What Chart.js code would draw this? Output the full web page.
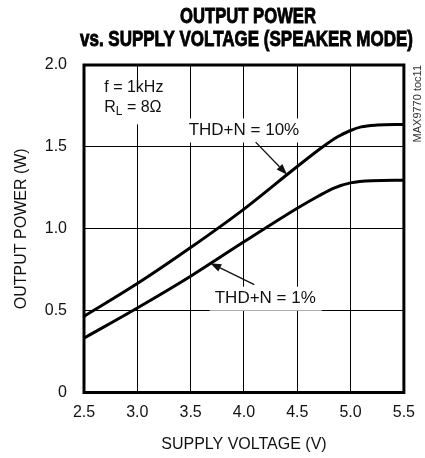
<!DOCTYPE html>
<html>
<head>
<meta charset="utf-8">
<script src="https://cdn.jsdelivr.net/npm/chart.js@4.4.0/dist/chart.umd.min.js"></script>
<style>
  html, body { margin: 0; padding: 0; background: #fff; }
  #chart { display: block; }
</style>
</head>
<body>
<canvas id="chart" width="425" height="458"></canvas>
<script>
// THD+N = 10% curve
const voltage10 = [2.5, 3.0, 3.5, 4.0, 4.5, 4.75, 4.875, 5.0, 5.1, 5.25, 5.5];
const power10 = [0.465, 0.665, 0.885, 1.12, 1.38, 1.505, 1.56, 1.60, 1.622, 1.633, 1.637];

// THD+N = 1% curve
const voltage1 = [2.5, 3.0, 3.5, 4.0, 4.5, 4.7, 4.85, 5.0, 5.2, 5.5];
const power1 = [0.332, 0.516, 0.71, 0.92, 1.125, 1.2, 1.25, 1.28, 1.293, 1.296];

const xTicks = [2.5, 3.0, 3.5, 4.0, 4.5, 5.0, 5.5];
const yTicks = [0, 0.5, 1.0, 1.5, 2.0];

const FONT = "'Liberation Sans Narrow', 'Liberation Sans', Arial, sans-serif";
const INK = '#111';

function toPoints(xs, ys) {
  return xs.map((v, i) => ({ x: v, y: ys[i] }));
}

function arrow(ctx, x1, y1, x2, y2) {
  const ang = Math.atan2(y2 - y1, x2 - x1);
  const len = 11, half = 4;
  const bx = x2 - len * Math.cos(ang), by = y2 - len * Math.sin(ang);
  ctx.beginPath();
  ctx.moveTo(x1, y1);
  ctx.lineTo(bx, by);
  ctx.lineWidth = 1.3;
  ctx.stroke();
  ctx.beginPath();
  ctx.moveTo(x2, y2);
  ctx.lineTo(bx + half * Math.sin(ang), by - half * Math.cos(ang));
  ctx.lineTo(bx - half * Math.sin(ang), by + half * Math.cos(ang));
  ctx.closePath();
  ctx.fill();
}

// label with white box, centred on a data point
function boxedLabel(ctx, text, cx, cy) {
  ctx.font = '17px ' + FONT;
  const w = ctx.measureText(text).width;
  ctx.fillStyle = '#fff';
  ctx.fillRect(cx - w / 2 - 5, cy - 12, w + 11, 24);
  ctx.fillStyle = INK;
  ctx.textAlign = 'center';
  ctx.textBaseline = 'middle';
  ctx.fillText(text, cx, cy);
}

const notes = {
  id: 'notes',
  afterDatasetsDraw(chart) {
    const { ctx, chartArea: a, scales: { x, y } } = chart;
    ctx.save();
    ctx.strokeStyle = INK;
    ctx.fillStyle = INK;

    // conditions box
    const fx = x.getPixelForValue(2.69);
    ctx.fillStyle = '#fff';
    ctx.fillRect(fx - 5, y.getPixelForValue(1.9), 63, 43);
    ctx.fillStyle = INK;
    ctx.font = '16px ' + FONT;
    ctx.textAlign = 'left';
    ctx.textBaseline = 'alphabetic';
    const b1 = y.getPixelForValue(1.833), b2 = y.getPixelForValue(1.71);
    ctx.fillText('f = 1kHz', fx, b1);
    ctx.fillText('R', fx, b2);
    let px = fx + ctx.measureText('R').width;
    ctx.font = '12px ' + FONT;
    ctx.fillText('L', px, b2 + 3);
    px += ctx.measureText('L').width;
    ctx.font = '16px ' + FONT;
    ctx.fillText(' = 8Ω', px, b2);

    // curve labels
    boxedLabel(ctx, 'THD+N = 10%', x.getPixelForValue(4.0), y.getPixelForValue(1.60));
    boxedLabel(ctx, 'THD+N = 1%', x.getPixelForValue(4.2), y.getPixelForValue(0.573));

    ctx.strokeStyle = INK;
    ctx.fillStyle = INK;
    arrow(ctx, x.getPixelForValue(4.11), y.getPixelForValue(1.529),
               x.getPixelForValue(4.405), y.getPixelForValue(1.33));
    arrow(ctx, x.getPixelForValue(4.097), y.getPixelForValue(0.659),
               x.getPixelForValue(3.684), y.getPixelForValue(0.79));

    // heavy frame
    ctx.lineWidth = 3;
    ctx.strokeStyle = '#000';
    ctx.strokeRect(a.left, a.top, a.right - a.left, a.bottom - a.top);

    // title, heavy condensed
    ctx.fillStyle = '#000';
    ctx.strokeStyle = '#000';
    ctx.lineWidth = 0.9;
    ctx.textAlign = 'center';
    ctx.textBaseline = 'alphabetic';
    ctx.font = 'bold 22px ' + FONT;
    ctx.fillText('OUTPUT POWER', 248, 23, 136);
    ctx.strokeText('OUTPUT POWER', 248, 23, 136);
    ctx.fillText('vs. SUPPLY VOLTAGE (SPEAKER MODE)', 246.5, 46, 333);
    ctx.strokeText('vs. SUPPLY VOLTAGE (SPEAKER MODE)', 246.5, 46, 333);

    // side code
    ctx.translate(418, a.top);
    ctx.rotate(-Math.PI / 2);
    ctx.font = '11px ' + FONT;
    ctx.textAlign = 'right';
    ctx.textBaseline = 'middle';
    ctx.fillStyle = '#333';
    ctx.fillText('MAX9770 toc11', 0, 0, 80);
    ctx.restore();
  }
};

new Chart(document.getElementById('chart'), {
  type: 'line',
  data: {
    datasets: [
      {
        label: 'THD+N = 10%',
        data: toPoints(voltage10, power10),
        borderColor: '#000',
        borderWidth: 3,
        pointRadius: 0,
        cubicInterpolationMode: 'monotone',
        fill: false
      },
      {
        label: 'THD+N = 1%',
        data: toPoints(voltage1, power1),
        borderColor: '#000',
        borderWidth: 3,
        pointRadius: 0,
        cubicInterpolationMode: 'monotone',
        fill: false
      }
    ]
  },
  options: {
    responsive: false,
    animation: false,
    layout: { padding: { top: 65, right: 13.5, left: 0, bottom: 0 } },
    plugins: {
      legend: { display: false },
      tooltip: { enabled: false }
    },
    scales: {
      x: {
        type: 'linear',
        min: 2.5,
        max: 5.5,
        afterBuildTicks: s => { s.ticks = xTicks.map(v => ({ value: v })); },
        afterFit: s => { s.height = 65.5; },
        grid: { color: '#000', lineWidth: 1, drawTicks: false },
        border: { display: false },
        ticks: {
          color: INK,
          padding: 10,
          font: { family: FONT, size: 16 },
          callback: v => v.toFixed(1)
        },
        title: {
          display: true,
          text: 'SUPPLY VOLTAGE (V)',
          color: INK,
          font: { family: FONT, size: 16 },
          padding: { top: 0, bottom: 4 }
        }
      },
      y: {
        min: 0,
        max: 2,
        afterBuildTicks: s => { s.ticks = yTicks.map(v => ({ value: v })); },
        afterFit: s => { s.width = 84; },
        grid: { color: '#000', lineWidth: 1, drawTicks: false },
        border: { display: false },
        ticks: {
          color: INK,
          padding: 17,
          font: { family: FONT, size: 16 },
          callback: v => v === 0 ? '0' : v.toFixed(1)
        },
        title: {
          display: true,
          text: 'OUTPUT POWER (W)',
          color: INK,
          font: { family: FONT, size: 16 },
          padding: { top: 12, bottom: 0 }
        }
      }
    }
  },
  plugins: [notes]
});
</script>
</body>
</html>
